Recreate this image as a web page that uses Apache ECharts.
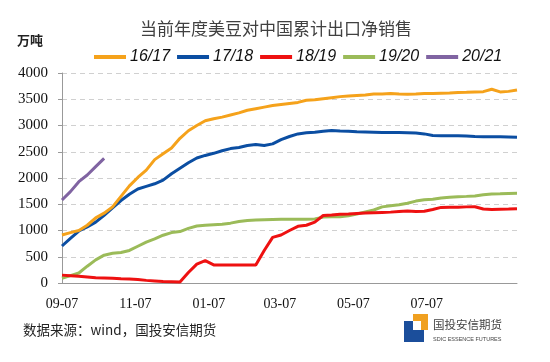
<!DOCTYPE html>
<html><head><meta charset="utf-8">
<script src="https://cdn.jsdelivr.net/npm/echarts@6/dist/echarts.min.js"></script>
<style>html,body{margin:0;padding:0;background:#fff}#c{width:550px;height:362px}</style>
</head><body><div id="c"></div>
<script>
var seriesNames = ['16/17', '17/18', '18/19', '19/20', '20/21'];
var startDate = '2017-09-07';
var tickDates = ['2017-09-07', '2017-11-07', '2018-01-07', '2018-03-07', '2018-05-07', '2018-07-07'];
var tickLabels = ['09-07', '11-07', '01-07', '03-07', '05-07', '07-07'];
var weekStep = 7;
var s1617 = [914,960,1000,1100,1240,1330,1450,1650,1850,2010,2150,2350,2460,2570,2757,2900,3000,3090,3130,3160,3200,3240,3290,3320,3350,3380,3400,3420,3440,3480,3490,3510,3530,3550,3560,3570,3580,3600,3600,3610,3600,3595,3600,3610,3610,3615,3620,3630,3633,3640,3645,3690,3640,3650,3677];
var s1718 = [705,851,990,1070,1160,1290,1430,1570,1690,1790,1840,1890,1960,2080,2185,2290,2380,2430,2470,2520,2560,2580,2620,2640,2620,2650,2730,2790,2840,2860,2870,2890,2905,2895,2890,2880,2875,2870,2865,2865,2865,2862,2855,2840,2810,2807,2807,2807,2800,2790,2788,2788,2785,2780,2775];
var s1819 = [150,140,130,115,100,95,90,80,75,65,50,40,30,25,20,200,360,425,345,345,345,345,345,345,620,870,914,1000,1080,1100,1160,1285,1295,1308,1315,1325,1335,1340,1345,1350,1360,1370,1360,1365,1400,1440,1442,1442,1450,1452,1410,1400,1405,1408,1415];
var s1920 = [90,140,190,320,440,530,565,580,620,700,780,840,910,960,980,1040,1085,1100,1110,1120,1140,1170,1190,1200,1205,1210,1213,1213,1213,1213,1220,1255,1260,1264,1280,1315,1355,1390,1450,1470,1490,1518,1560,1585,1594,1620,1635,1645,1650,1658,1680,1696,1700,1705,1709];
var s2021 = [1581,1740,1930,2057,2216,2375];
var yTicks = {min: 0, max: 4000, interval: 500};
var colors = ['#F5A21B', '#0B4EA2', '#EE1111', '#9BBB59', '#8064A2'];

function dayOf(d) { return (Date.parse(d) - Date.parse(startDate)) / 86400000; }
var tickDays = tickDates.map(dayOf);
function toPoints(arr) { return arr.map(function (v, i) { return [i * weekStep, v]; }); }
var allData = [s1617, s1718, s1819, s1920, s2021];
var serifFont = '"Liberation Serif", "DejaVu Serif", serif';

var chart = echarts.init(document.getElementById('c'), null, {renderer: 'canvas'});
chart.setOption({
  animation: false,
  backgroundColor: '#fff',
  title: {
    text: '当前年度美豆对中国累计出口净销售',
    left: 135, top: 15,
    textStyle: {fontFamily: 'Noto Sans CJK SC', fontSize: 17, fontWeight: 'normal', color: '#404040'}
  },
  legend: {
    left: 89, top: 44,
    itemWidth: 32, itemHeight: 4, itemGap: 7,
    icon: 'rect',
    textStyle: {fontFamily: 'Liberation Sans', fontStyle: 'italic', fontSize: 16, color: '#111', padding: [0, 0, 0, -1]},
    data: seriesNames
  },
  grid: {left: 62, right: 33, top: 73, bottom: 79, containLabel: false},
  xAxis: {
    type: 'value', min: 0, max: 378,
    axisLine: {show: true, lineStyle: {color: '#999', width: 1}},
    axisTick: {show: false},
    splitLine: {show: false},
    axisLabel: {
      customValues: tickDays,
      formatter: function (v) { var k = tickDays.indexOf(v); return k >= 0 ? tickLabels[k] : ''; },
      fontFamily: serifFont, fontSize: 14, color: '#111', margin: 14
    }
  },
  yAxis: {
    type: 'value', min: yTicks.min, max: yTicks.max, interval: yTicks.interval,
    axisLine: {show: true, lineStyle: {color: '#999', width: 1}},
    axisTick: {show: true, length: 4, lineStyle: {color: '#999'}},
    splitLine: {show: true, lineStyle: {color: '#D0D0D0', type: [5, 4], width: 1}},
    axisLabel: {formatter: function (v) { return String(v); }, fontFamily: serifFont, fontSize: 15, color: '#111', margin: 14}
  },
  graphic: [
    {type: 'text', left: 17, top: 34, style: {text: '万吨', font: 'bold 13px "Noto Sans CJK SC"', fill: '#222'}},
    {type: 'text', left: 23, top: 323, style: {text: '数据来源：wind，国投安信期货', font: '13.5px "Noto Sans CJK SC"', fill: '#222'}},
    {type: 'rect', shape: {x: 404, y: 321, width: 20, height: 21}, style: {fill: '#1B4E9B'}},
    {type: 'rect', shape: {x: 413, y: 314, width: 15, height: 16}, style: {fill: '#F0A020'}},
    {type: 'rect', shape: {x: 413, y: 321, width: 8, height: 9}, style: {fill: '#fff'}},
    {type: 'text', left: 433, top: 319, style: {text: '国投安信期货', font: '11.5px "Noto Sans CJK SC"', fill: '#444'}},
    {type: 'text', left: 433, top: 336, style: {text: 'SDIC ESSENCE FUTURES', font: '5.5px "Liberation Sans"', fill: '#444'}}
  ],
  series: allData.map(function (arr, k) {
    return {
      name: seriesNames[k], type: 'line', data: toPoints(arr),
      showSymbol: false, symbol: 'none', smooth: false,
      lineStyle: {color: colors[k], width: 3}, itemStyle: {color: colors[k]},
      z: 10 - k
    };
  })
});
</script></body></html>
